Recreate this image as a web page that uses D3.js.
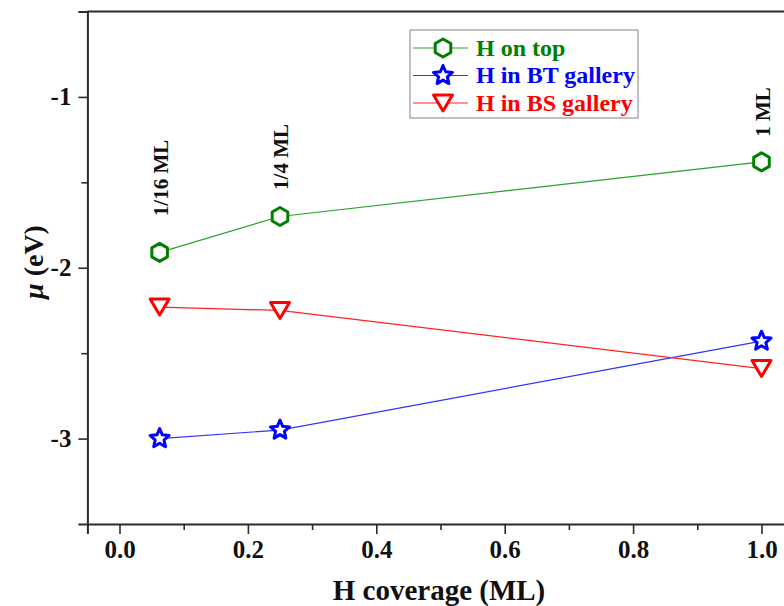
<!DOCTYPE html>
<html>
<head>
<meta charset="utf-8">
<script src="https://cdn.jsdelivr.net/npm/d3@7"></script>
<style>
  html, body { margin: 0; padding: 0; background: #fff; }
  svg { display: block; }
  text { font-family: "Liberation Serif", "DejaVu Serif", serif; font-weight: bold; }
</style>
</head>
<body>
<svg id="chart" width="784" height="606"></svg>
<script>
// Coverage values (ML) at which the chemical potential was computed
const coverage = [0.0625, 0.25, 1.0];
const coverageLabels = ["1/16 ML", "1/4 ML", "1 ML"];

// Chemical potential mu (eV) for each adsorption site
const onTop     = [-1.91, -1.70, -1.38];
const btGallery = [-3.00, -2.95, -2.43];
const bsGallery = [-2.23, -2.25, -2.59];

const seriesNames  = ["H on top", "H in BT gallery", "H in BS gallery"];
const seriesColors = ["#008000", "#0000ff", "#ff0000"];
const lineColors   = ["#2ca02c", "#3333ff", "#ff2222"];

const xTicks = [0.0, 0.2, 0.4, 0.6, 0.8, 1.0];
const xMinorTicks = [0.1, 0.3, 0.5, 0.7, 0.9];
const yTicks = [-1, -2, -3];
const yMinorTicks = [-1.5, -2.5];

const series = [
  { name: seriesNames[0], values: onTop,     color: seriesColors[0], line: lineColors[0], shape: "hexagon" },
  { name: seriesNames[1], values: btGallery, color: seriesColors[1], line: lineColors[1], shape: "star" },
  { name: seriesNames[2], values: bsGallery, color: seriesColors[2], line: lineColors[2], shape: "triangle" }
];

const svg = d3.select("#chart");
const plotLeft = 87.4, plotTop = 11.5, plotBottom = 524;
const x = d3.scaleLinear().domain([-0.05, 1.05]).range([plotLeft, plotLeft + 1.1 * 642]);
const y = d3.scaleLinear().domain([-3.5, -0.5]).range([plotBottom, plotTop]);

// Marker path generators
function hexagonPath(r) {
  const pts = d3.range(6).map(i => {
    const a = Math.PI / 3 * i - Math.PI / 2;
    return [r * Math.cos(a), r * Math.sin(a)];
  });
  return "M" + pts.map(p => p.join(",")).join("L") + "Z";
}
function starPath(R, r) {
  const pts = d3.range(10).map(i => {
    const a = Math.PI / 5 * i - Math.PI / 2;
    const rr = i % 2 === 0 ? R : r;
    return [rr * Math.cos(a), rr * Math.sin(a)];
  });
  return "M" + pts.map(p => p.join(",")).join("L") + "Z";
}
function trianglePath(w, h) {
  return `M${-w / 2},${-h / 2}L${w / 2},${-h / 2}L0,${h / 2}Z`;
}
const shapes = {
  hexagon: hexagonPath(9),
  star: starPath(10, 4.6),
  triangle: trianglePath(19, 16)
};

// Frame
const axisColor = "#2b2b2b";
svg.append("line").attr("x1", plotLeft).attr("x2", 784).attr("y1", plotTop).attr("y2", plotTop)
  .attr("stroke", axisColor).attr("stroke-width", 2);
svg.append("line").attr("x1", x.range()[1]).attr("x2", x.range()[1]).attr("y1", plotTop).attr("y2", plotBottom)
  .attr("stroke", axisColor).attr("stroke-width", 2);

// X axis
const xAxis = svg.append("g").attr("transform", `translate(0,${plotBottom})`)
  .call(d3.axisBottom(x).tickValues(xTicks).tickFormat(d3.format(".1f")).tickSize(10).tickPadding(6));
svg.append("g").attr("transform", `translate(0,${plotBottom})`)
  .call(d3.axisBottom(x).tickValues(xMinorTicks).tickSize(6).tickFormat(""))
  .call(g => g.select(".domain").remove());

// Y axis
const yAxis = svg.append("g").attr("transform", `translate(${plotLeft},0)`)
  .call(d3.axisLeft(y).tickValues(yTicks).tickFormat(d3.format("d")).tickSize(9).tickPadding(7));
svg.append("g").attr("transform", `translate(${plotLeft},0)`)
  .call(d3.axisLeft(y).tickValues(yMinorTicks).tickSize(6).tickFormat(""))
  .call(g => g.select(".domain").remove());

svg.selectAll(".domain").attr("stroke", axisColor).attr("stroke-width", 2);
svg.selectAll(".tick line").attr("stroke", axisColor).attr("stroke-width", 1.6);
xAxis.selectAll(".tick text").attr("font-size", 25).attr("fill", "#111");
yAxis.selectAll(".tick text").attr("font-size", 25).attr("fill", "#111")
  .text(d => "-" + Math.abs(d));

// Axis titles
svg.append("text").attr("x", 439).attr("y", 600).attr("text-anchor", "middle")
  .attr("font-size", 29).attr("fill", "#111").text("H coverage (ML)");
const yt = svg.append("text").attr("transform", "translate(43,262) rotate(-90)")
  .attr("text-anchor", "middle").attr("font-size", 28).attr("fill", "#111");
yt.append("tspan").attr("font-style", "italic").text("μ");
yt.append("tspan").text(" (eV)");

// Series lines and markers
const line = d3.line().x((d, i) => x(coverage[i])).y(d => y(d));
series.forEach(s => {
  svg.append("path").attr("d", line(s.values)).attr("fill", "none")
    .attr("stroke", s.line).attr("stroke-width", 1.2);
});
series.forEach(s => {
  svg.selectAll(null).data(s.values).enter().append("path")
    .attr("transform", (d, i) => `translate(${x(coverage[i])},${y(d)})`)
    .attr("d", shapes[s.shape]).attr("fill", "#fff")
    .attr("stroke", s.color).attr("stroke-width", 3).attr("stroke-linejoin", "round");
});

// Coverage annotations
const annY = [178, 157, 112];
coverageLabels.forEach((t, i) => {
  svg.append("text").attr("transform", `translate(${x(coverage[i]) + 8},${annY[i]}) rotate(-90)`)
    .attr("text-anchor", "middle").attr("font-size", 21).attr("fill", "#111").text(t);
});

// Legend
const lg = svg.append("g");
lg.append("rect").attr("x", 410).attr("y", 30).attr("width", 228).attr("height", 88)
  .attr("fill", "#fff").attr("stroke", "#aaa").attr("stroke-width", 1.5);
series.forEach((s, i) => {
  const ry = 48 + i * 27.5;
  lg.append("line").attr("x1", 413).attr("x2", 468).attr("y1", ry).attr("y2", ry)
    .attr("stroke", s.line).attr("stroke-width", 1.2);
  lg.append("path").attr("transform", `translate(443,${ry})`).attr("d", shapes[s.shape])
    .attr("fill", "#fff").attr("stroke", s.color).attr("stroke-width", 3).attr("stroke-linejoin", "round");
  lg.append("text").attr("x", 476).attr("y", ry + 7.5).attr("font-size", 24)
    .attr("fill", s.color).text(s.name);
});
</script>
</body>
</html>
